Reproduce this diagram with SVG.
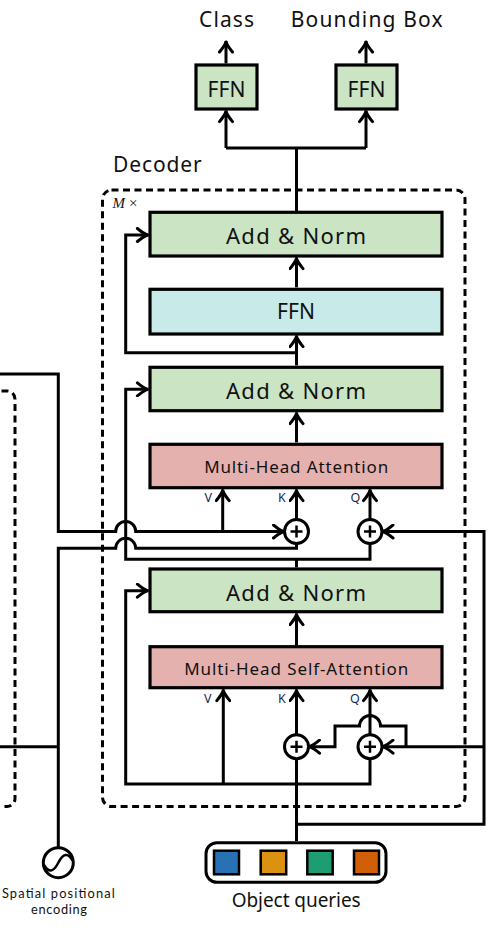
<svg xmlns="http://www.w3.org/2000/svg" width="504" height="941" viewBox="0 0 504 941">
<style>
 text { font-family: "Noto Sans", "Open Sans", sans-serif; fill: #111; }
 .box { stroke: #000; stroke-width: 3.2; }
 .green { fill: #cbe4c4; }
 .pink { fill: #e5b1af; }
 .cyan { fill: #c8eae8; }
 .ln { fill: none; stroke: #000; stroke-width: 3; }
 .arr { marker-end: url(#ah); }
 .dash { fill: none; stroke: #000; stroke-width: 3; stroke-dasharray: 7 4.5; }
 .plus circle { fill: #fff; stroke: #000; stroke-width: 3; }
 .plus path { fill: none; stroke: #000; stroke-width: 2.5; }
 .lbl { font-size: 12.5px; fill: #1b2a4a; }
 .big { font-size: 22px; text-anchor: middle; }
 .mid { font-size: 17px; text-anchor: middle; }
 .small { font-family: Lato, "Noto Sans", sans-serif; font-size: 12.8px; text-anchor: middle; }
</style>
<defs>
 <marker id="ah" viewBox="-13 -8 16 16" markerWidth="16" markerHeight="16" refX="1" refY="0" orient="auto" markerUnits="userSpaceOnUse">
  <path d="M-10,-6.5 Q-4,-1.5 0,0 Q-4,1.5 -10,6.5" fill="none" stroke="#000" stroke-width="3" stroke-linecap="round" stroke-linejoin="round"/>
 </marker>
</defs>

<!-- dashed frames -->
<g id="encoder-frame">
 <path class="dash" d="M-10,391 H7 A8,8 0 0 1 15,399 V798.5 A8,8 0 0 1 7,806.5 H-10"/>
</g>
<g id="decoder-frame">
 <rect class="dash" x="102.5" y="190" width="362.5" height="616.5" rx="9"/>
 <text x="113" y="172" font-size="21" textLength="88.7">Decoder</text>
 <text x="112.5" y="208" font-size="15" style="font-family:'Liberation Serif',serif;font-style:italic">M<tspan dx="4" style="font-style:normal">×</tspan></text>
</g>

<!-- connectors -->
<g id="connectors">
 <path class="ln" d="M296.5,212 V148 M226,148 H366"/>
 <path class="ln arr" d="M226,148 V110.6"/>
 <path class="ln arr" d="M366,148 V110.6"/>
 <path class="ln arr" d="M226,63.4 V41"/>
 <path class="ln arr" d="M366,63.4 V41"/>
 <path class="ln arr" d="M296.5,287.4 V257.6"/>
 <path class="ln arr" d="M296.5,352.7 H125.7 V235 H148.4"/>
 <path class="ln arr" d="M296.5,365.4 V335.6"/>
 <path class="ln arr" d="M296.5,442.4 V412.6"/>
 <path class="ln arr" d="M370,543.5 V559.3 H125.7 V389.3 H148.4"/>
 <path class="ln" d="M296.5,567.4 V559.3"/>
 <path class="ln arr" d="M0,374 H58.3 V531.5 H115.7 A10,10 0 0 1 135.7,531.5 H284.5"/>
 <path class="ln arr" d="M222.7,531.5 V489.6"/>
 <path class="ln arr" d="M296.5,519.5 V489.6"/>
 <path class="ln arr" d="M370,519.5 V489.6"/>
 <path class="ln" d="M58.3,847.7 V548.3 H115.7 A10,10 0 0 1 135.7,548.3 H296.5 V543.5"/>
 <path class="ln arr" d="M296.5,824.3 H484 V531.5 H382"/>
 <path class="ln arr" d="M296.5,645.4 V613.6"/>
 <path class="ln arr" d="M370,758.7 V784 H125.7 V590.7 H148.4"/>
 <path class="ln arr" d="M223.3,784 V689.6"/>
 <path class="ln arr" d="M296.5,734.7 V689.6"/>
 <path class="ln arr" d="M370,734.7 V689.6"/>
 <path class="ln" d="M296.5,841 V758.7"/>
 <path class="ln arr" d="M484,746.7 H382"/>
 <path class="ln arr" d="M406,746.7 V726 H380.5 A10.5,10.5 0 0 0 359.5,726 H335 V746.7 H308.5"/>
 <path class="ln" d="M0,746.7 H58.3"/>
</g>

<!-- output heads -->
<g id="ffn-class">
 <rect class="box green" x="196" y="65" width="61" height="44"/>
 <text class="big" x="226.5" y="96.5" style="font-size:21px" textLength="38">FFN</text>
</g>
<g id="ffn-bbox">
 <rect class="box green" x="336" y="65" width="61" height="44"/>
 <text class="big" x="366.5" y="96.5" style="font-size:21px" textLength="38">FFN</text>
</g>
<g id="label-class"><text class="big" x="226.5" y="26.5" style="font-size:21px" textLength="55">Class</text></g>
<g id="label-bbox"><text class="big" x="366.7" y="26.5" style="font-size:21px" textLength="152">Bounding Box</text></g>

<!-- decoder layer -->
<g id="addnorm-3">
 <rect class="box green" x="150" y="212.3" width="292" height="43.7"/>
 <text class="big" x="296" y="244" textLength="140">Add &amp; Norm</text>
</g>
<g id="ffn">
 <rect class="box cyan" x="150" y="289.3" width="292" height="44.7"/>
 <text class="big" x="296" y="319.3" style="font-size:21px" textLength="38">FFN</text>
</g>
<g id="addnorm-2">
 <rect class="box green" x="150" y="367.3" width="292" height="43.4"/>
 <text class="big" x="296" y="399" textLength="140">Add &amp; Norm</text>
</g>
<g id="mha">
 <rect class="box pink" x="150" y="444.3" width="292" height="43.4"/>
 <text class="mid" x="296.2" y="473.3" textLength="184">Multi-Head Attention</text>
</g>
<g id="qkv-labels-cross">
 <text class="lbl" x="204.5" y="501.7">V</text>
 <text class="lbl" x="278" y="501.7">K</text>
 <text class="lbl" x="350.5" y="501.7">Q</text>
</g>
<g id="plus-k-cross" class="plus">
 <circle cx="296.5" cy="531.5" r="12"/>
 <path d="M290.5,531.5 H302.5 M296.5,525.5 V537.5"/>
</g>
<g id="plus-q-cross" class="plus">
 <circle cx="370" cy="531.5" r="12"/>
 <path d="M364,531.5 H376 M370,525.5 V537.5"/>
</g>
<g id="addnorm-1">
 <rect class="box green" x="150" y="569" width="292" height="42.7"/>
 <text class="big" x="296" y="600.5" textLength="140">Add &amp; Norm</text>
</g>
<g id="mhsa">
 <rect class="box pink" x="150" y="646.7" width="292" height="41"/>
 <text class="mid" x="296.2" y="675" textLength="224">Multi-Head Self-Attention</text>
</g>
<g id="qkv-labels-self">
 <text class="lbl" x="204" y="703.3">V</text>
 <text class="lbl" x="278" y="703.3">K</text>
 <text class="lbl" x="350" y="703.3">Q</text>
</g>
<g id="plus-k-self" class="plus">
 <circle cx="296.5" cy="746.7" r="12"/>
 <path d="M290.5,746.7 H302.5 M296.5,740.7 V752.7"/>
</g>
<g id="plus-q-self" class="plus">
 <circle cx="370" cy="746.7" r="12"/>
 <path d="M364,746.7 H376 M370,740.7 V752.7"/>
</g>

<!-- inputs -->
<g id="spatial-encoding">
 <circle cx="58.3" cy="862.7" r="15" fill="#fff" stroke="#000" stroke-width="3"/>
 <path d="M44,865 Q51,877 58.3,862.7 Q65.6,848.5 72.6,860.5" fill="none" stroke="#000" stroke-width="2.5"/>
 <text class="small" x="58.4" y="898" textLength="113">Spatial positional</text>
 <text class="small" x="59" y="913.5" textLength="56">encoding</text>
</g>
<g id="object-queries">
 <rect x="206" y="842.7" width="180" height="39.6" rx="11" fill="#fff" stroke="#000" stroke-width="3"/>
 <rect x="214" y="850.7" width="25" height="23.6" fill="#2971b5" stroke="#000" stroke-width="2.5"/>
 <rect x="260.7" y="850.7" width="25.5" height="23.6" fill="#db9213" stroke="#000" stroke-width="2.5"/>
 <rect x="307.3" y="850.7" width="25.4" height="23.6" fill="#1f9d72" stroke="#000" stroke-width="2.5"/>
 <rect x="354" y="850.7" width="25" height="23.6" fill="#d15f07" stroke="#000" stroke-width="2.5"/>
 <text x="296.2" y="906.5" font-size="19" text-anchor="middle" textLength="129">Object queries</text>
</g>
</svg>
